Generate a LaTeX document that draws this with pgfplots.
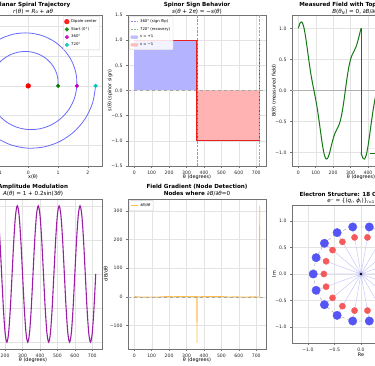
\documentclass[border=0pt]{standalone}
\usepackage{fontspec}
\setmainfont{DejaVu Sans}
\usepackage{pgfplots}
\pgfplotsset{compat=1.18}
\definecolor{spiralc}{RGB}{105,105,255}
\definecolor{mplred}{RGB}{235,30,30}
\definecolor{bluefill}{RGB}{179,179,255}
\definecolor{redfill}{RGB}{255,179,179}
\definecolor{vblue}{RGB}{140,140,255}
\definecolor{vgreen}{RGB}{128,192,128}
\definecolor{fieldgreen}{RGB}{20,120,20}
\definecolor{ampl}{RGB}{155,30,165}
\definecolor{grad}{RGB}{255,188,70}
\definecolor{eblue}{RGB}{85,85,245}
\definecolor{ered}{RGB}{245,90,90}
\definecolor{spoke}{RGB}{200,200,248}
\definecolor{mplgreen}{RGB}{0,128,0}
\definecolor{mplmag}{RGB}{191,0,191}
\definecolor{mplcyan}{RGB}{0,191,191}
\newcommand{\tfont}{\fontsize{5.6}{6.5}\selectfont\bfseries}
\newcommand{\sfont}{\fontsize{5.6}{6.5}\selectfont}
\newcommand{\lfont}{\fontsize{4.9}{5.5}\selectfont}
\newcommand{\kfont}{\fontsize{4.6}{5.2}\selectfont}
\newcommand{\ti}[1]{\textit{#1}}
\pgfplotsset{
  panel/.style={
    scale only axis, anchor=south west, width=138pt, height=151pt,
    axis line style={black!55, line width=0.6pt},
    tick align=outside, major tick length=2pt,
    every tick/.append style={black!55, line width=0.5pt},
    xtick pos=left, ytick pos=left,
    grid=major, grid style={black!11, line width=0.35pt},
    ticklabel style={font=\kfont, text=black!85},
    /pgf/number format/assume math mode=true,
    legend style={font=\fontsize{3.8}{4.4}\selectfont, draw=black!20, line width=0.3pt, rounded corners=0.8pt, fill=white, fill opacity=0.85, text opacity=1, inner xsep=1pt, inner ysep=0.8pt, row sep=-0.6pt, /tikz/every even column/.append style={column sep=1pt}},
    legend cell align=left,
    legend image code/.code={\draw[mark repeat=2,mark phase=2,#1] plot coordinates {(0pt,0pt) (3.5pt,0pt) (7pt,0pt)};},
  },
  degx/.style={xmin=-36, xmax=756, xtick={0,100,...,700}},
}
\begin{document}
\begin{tikzpicture}
\useasboundingbox (0pt,0pt) rectangle (375pt,366pt);
\clip (0pt,0pt) rectangle (375pt,366pt);

% ---------- Panel 1: spiral
\begin{axis}[panel, at={(-36pt,200pt)}, xmin=-2.15, xmax=2.47, ymin=-2.70, ymax=2.39,
  xtick={-2,-1,0,1,2}, xticklabels={−2,−1,0,1,2}, ytick={-2,-1,0,1,2}, yticklabels={−2,−1,0,1,2},
  legend style={at={(0.985,0.99)}, anchor=north east}]
\addplot[spiralc, line width=0.8pt, smooth, forget plot] coordinates {
(1.0000,0)(0.9912,0.2656)(0.9114,0.5262)(0.7626,0.7626)(0.5524,0.9567)(0.2927,1.0923)(0,1.1571)
(-0.3062,1.1430)(-0.6047,1.0473)(-0.8737,0.8737)(-1.0927,0.6309)(-1.2441,0.3333)(-1.3142,0)
(-1.2946,-0.3469)(-1.1834,-0.6833)(-0.9848,-0.9848)(-0.7095,-1.2288)(-0.3740,-1.3958)(0,-1.4712)
(0.3875,-1.4463)(0.7618,-1.3194)(1.0959,-1.0959)(1.3648,-0.7880)(1.5475,-0.4146)(1.6283,0)
(1.5981,0.4282)(1.4555,0.8404)(1.2070,1.2070)(0.8665,1.5008)(0.4553,1.6992)(0,1.7854)
(-0.4688,1.7498)(-0.9189,1.5915)(-1.3180,1.3180)(-1.6368,0.9451)(-1.8510,0.4959)(-1.9425,0)
(-1.9016,-0.5095)(-1.7275,-0.9974)(-1.4291,-1.4291)(-1.0236,-1.7729)(-0.5366,-2.0027)(0,-2.0996)
(0.5501,-2.0532)(1.0760,-1.8635)(1.5401,-1.5401)(1.9089,-1.1022)(2.1544,-0.5773)(2.2566,0)};
\addplot[only marks, mark=*, mark size=2.4pt, red] coordinates {(0,0)}; \addlegendentry{Dipole center}
\addplot[only marks, mark=*, mark size=1.9pt, mplgreen] coordinates {(1,0)}; \addlegendentry{Start (0°)}
\addplot[only marks, mark=*, mark size=1.9pt, mplmag] coordinates {(1.6283,0)}; \addlegendentry{360°}
\addplot[only marks, mark=*, mark size=1.9pt, mplcyan] coordinates {(2.2566,0)}; \addlegendentry{720°}
\end{axis}

% ---------- Panel 2: spinor sign
\begin{axis}[panel, degx, at={(128pt,200pt)}, ymin=-1.5, ymax=1.5,
  ytick={-1.5,-1,-0.5,0,0.5,1,1.5}, yticklabels={−1.5,−1.0,−0.5,0.0,0.5,1.0,1.5},
  legend style={at={(0.01,0.99)}, anchor=north west}]
\addplot[fill=bluefill, draw=none, forget plot] coordinates {(0,0)(0,1)(360,1)(360,0)} -- cycle;
\addplot[fill=redfill, draw=none, forget plot] coordinates {(360,0)(360,-1)(720,-1)(720,0)} -- cycle;
\addplot[black!35, dashed, line width=0.5pt, forget plot] coordinates {(-36,0)(756,0)};
\addplot[mplred, line width=1.1pt, forget plot] coordinates {(0,1)(360,1)(360,-1)(720,-1)(720,1)};
\addplot[vblue, dash pattern=on 2.5pt off 1.2pt, line width=0.7pt, forget plot] coordinates {(360,-1.5)(360,1.5)};
\addplot[vgreen, dash pattern=on 2.5pt off 1.2pt, line width=0.7pt, forget plot] coordinates {(720,-1.5)(720,1.5)};
\addlegendimage{vblue, dash pattern=on 2pt off 1pt, line width=0.6pt}\addlegendentry{360° (sign flip)}
\addlegendimage{vgreen, dash pattern=on 2pt off 1pt, line width=0.6pt}\addlegendentry{720° (recovery)}
\addlegendimage{legend image code/.code={\fill[bluefill] (0pt,-1.4pt) rectangle (7pt,1.4pt);}}\addlegendentry{\ti{s} = +1}
\addlegendimage{legend image code/.code={\fill[redfill] (0pt,-1.4pt) rectangle (7pt,1.4pt);}}\addlegendentry{\ti{s} = −1}
\end{axis}

% ---------- Panel 3: measured field
\begin{axis}[panel, degx, at={(292pt,200pt)}, ymin=-1.215, ymax=1.215,
  ytick={-1,-0.5,0,0.5,1}, yticklabels={−1.0,−0.5,0.0,0.5,1.0},
  legend style={at={(0.985,0.119)}, anchor=north east}]
\addplot[black!30, line width=0.6pt, forget plot] coordinates {(-36,0)(756,0)};
\addplot[fieldgreen, line width=1pt, smooth] coordinates {
(0,1.0)(10,1.0833)(20,1.1025)(30,1.0392)(40,0.8987)(50,0.7071)(60,0.5)(70,0.3078)(80,0.1435)(90,0)
(100,-0.1435)(110,-0.3078)(120,-0.5)(130,-0.7071)(140,-0.8987)(150,-1.0392)(160,-1.1025)(170,-1.0833)(180,-1.0)
(190,-0.8863)(200,-0.7769)(210,-0.6928)(220,-0.6333)(230,-0.5785)(240,-0.5)(250,-0.3762)(260,-0.2037)(270,0)
(280,0.2037)(290,0.3762)(300,0.5)(310,0.5785)(320,0.6333)(330,0.6928)(340,0.7769)(350,0.8863)(360,1.0)};
\addlegendentry{\ti{B}(\ti{θ}) measured, sign flip}
\addplot[fieldgreen, line width=1pt, forget plot] coordinates {(360,1)(360,-1)};
\addplot[fieldgreen, line width=1pt, smooth, forget plot] coordinates {
(360,-1.0)(370,-1.0833)(380,-1.1025)(390,-1.0392)(400,-0.8987)(410,-0.7071)(420,-0.5)(430,-0.3078)(440,-0.1435)(450,0)
(460,0.1435)(470,0.3078)(480,0.5)(490,0.7071)(500,0.8987)(510,1.0392)(520,1.1025)(530,1.0833)(540,1.0)
(550,0.8863)(560,0.7769)(570,0.6928)(580,0.6333)(590,0.5785)(600,0.5)(610,0.3762)(620,0.2037)(630,0)
(640,-0.2037)(650,-0.3762)(660,-0.5)(670,-0.5785)(680,-0.6333)(690,-0.6928)(700,-0.7769)(710,-0.8863)(720,-1.0)};
\addplot[fieldgreen, line width=1pt, forget plot] coordinates {(720,-1)(720,1)};
\end{axis}

% ---------- Panel 4: amplitude
\begin{axis}[panel, degx, at={(-36pt,17pt)}, height=150pt, ymin=0.78, ymax=1.22,
  ytick={0.8,0.9,1.0,1.1,1.2}]
\addplot[ampl, line width=1.1pt, smooth] coordinates {
(0,1)(10,1.1)(20,1.1732)(30,1.2)(40,1.1732)(50,1.1)(60,1)(70,0.9)(80,0.8268)(90,0.8)(100,0.8268)(110,0.9)
(120,1)(130,1.1)(140,1.1732)(150,1.2)(160,1.1732)(170,1.1)(180,1)(190,0.9)(200,0.8268)(210,0.8)(220,0.8268)(230,0.9)
(240,1)(250,1.1)(260,1.1732)(270,1.2)(280,1.1732)(290,1.1)(300,1)(310,0.9)(320,0.8268)(330,0.8)(340,0.8268)(350,0.9)
(360,1)(370,1.1)(380,1.1732)(390,1.2)(400,1.1732)(410,1.1)(420,1)(430,0.9)(440,0.8268)(450,0.8)(460,0.8268)(470,0.9)
(480,1)(490,1.1)(500,1.1732)(510,1.2)(520,1.1732)(530,1.1)(540,1)(550,0.9)(560,0.8268)(570,0.8)(580,0.8268)(590,0.9)
(600,1)(610,1.1)(620,1.1732)(630,1.2)(640,1.1732)(650,1.1)(660,1)(670,0.9)(680,0.8268)(690,0.8)(700,0.8268)(710,0.9)(720,1)};
\end{axis}

% ---------- Panel 5: gradient
\begin{axis}[panel, degx, at={(128pt,17pt)}, height=150pt, ymin=-182, ymax=341,
  ytick={-100,0,100,200,300}, yticklabels={−100,0,100,200,300},
  legend style={at={(0.01,0.99)}, anchor=north west}]
\addplot[grad, line width=0.9pt] coordinates {
(0,0.6)(10,0.3207)(20,-0.1193)(30,-0.6)(40,-0.9839)(50,-1.1766)(60,-1.166)(70,-1.0234)(80,-0.8663)(90,-0.8)
(100,-0.8663)(110,-1.0234)(120,-1.166)(130,-1.1766)(140,-0.9839)(150,-0.6)(160,-0.1193)(170,0.3207)(180,0.6)
(190,0.6679)(200,0.5647)(210,0.4)(220,0.3017)(230,0.3554)(240,0.566)(250,0.856)(260,1.1033)(270,1.2)
(280,1.1033)(290,0.856)(300,0.566)(310,0.3554)(320,0.3017)(330,0.4)(340,0.5647)(350,0.6679)(359.6,0.6)
(359.8,-159.1)(360.2,-159.1)(360.4,-0.6)
(370,-0.3207)(380,0.1193)(390,0.6)(400,0.9839)(410,1.1766)(420,1.166)(430,1.0234)(440,0.8663)(450,0.8)
(460,0.8663)(470,1.0234)(480,1.166)(490,1.1766)(500,0.9839)(510,0.6)(520,0.1193)(530,-0.3207)(540,-0.6)
(550,-0.6679)(560,-0.5647)(570,-0.4)(580,-0.3017)(590,-0.3554)(600,-0.566)(610,-0.856)(620,-1.1033)(630,-1.2)
(640,-1.1033)(650,-0.856)(660,-0.566)(670,-0.3554)(680,-0.3017)(690,-0.4)(700,-0.5647)(710,-0.6679)(719.3,-0.6)
(719.64,159.1)(720,318.2)};
\addlegendentry{∂\ti{B}/∂\ti{θ}}
\addplot[black!35, dashed, line width=0.5pt, forget plot] coordinates {(-36,0)(756,0)};
\end{axis}

% ---------- Panel 6: electron structure
\begin{axis}[panel, at={(292pt,23pt)}, width=138pt, height=138pt, xmin=-1.3, xmax=1.3, ymin=-1.3, ymax=1.3,
  xtick={-1,-0.5,0,0.5,1}, xticklabels={−1.0,−0.5,0.0,0.5,1.0},
  ytick={-1,-0.5,0,0.5,1}, yticklabels={−1.0,−0.5,0.0,0.5,1.0}]
\addplot[spoke, line width=0.5pt, unbounded coords=jump] coordinates {
(0,0)(0.9,0)(nan,nan)(0,0)(0.8457,0.3078)(nan,nan)(0,0)(0.6894,0.5785)(nan,nan)(0,0)(0.45,0.7794)(nan,nan)
(0,0)(0.1563,0.8863)(nan,nan)(0,0)(-0.1563,0.8863)(nan,nan)(0,0)(-0.45,0.7794)(nan,nan)(0,0)(-0.6894,0.5785)(nan,nan)
(0,0)(-0.8457,0.3078)(nan,nan)(0,0)(-0.9,0)(nan,nan)(0,0)(-0.8457,-0.3078)(nan,nan)(0,0)(-0.6894,-0.5785)(nan,nan)
(0,0)(-0.45,-0.7794)(nan,nan)(0,0)(-0.1563,-0.8863)(nan,nan)(0,0)(0.1563,-0.8863)(nan,nan)(0,0)(0.45,-0.7794)(nan,nan)
(0,0)(0.6894,-0.5785)(nan,nan)(0,0)(0.8457,-0.3078)};
\addplot[black!40, dashed, line width=0.4pt] coordinates {
(0.9,0)(0.8457,0.3078)(0.6894,0.5785)(0.45,0.7794)(0.1563,0.8863)(-0.1563,0.8863)(-0.45,0.7794)(-0.6894,0.5785)
(-0.8457,0.3078)(-0.9,0)(-0.8457,-0.3078)(-0.6894,-0.5785)(-0.45,-0.7794)(-0.1563,-0.8863)(0.1563,-0.8863)
(0.45,-0.7794)(0.6894,-0.5785)(0.8457,-0.3078)(0.9,0)};
\addplot[only marks, mark=*, mark size=3.1pt, ered, mark options={draw=ered}] coordinates {
(0.7,0)(0.6578,0.2394)(0.5362,0.45)(0.35,0.6062)(0.1215,0.6894)(-0.1215,0.6894)(-0.35,0.6062)(-0.5362,0.45)
(-0.6578,0.2394)(-0.7,0)(-0.6578,-0.2394)(-0.5362,-0.45)(-0.35,-0.6062)(-0.1215,-0.6894)(0.1215,-0.6894)
(0.35,-0.6062)(0.5362,-0.45)(0.6578,-0.2394)};
\addplot[only marks, mark=*, mark size=4.2pt, eblue, mark options={draw=eblue}] coordinates {
(0.9,0)(0.8457,0.3078)(0.6894,0.5785)(0.45,0.7794)(0.1563,0.8863)(-0.1563,0.8863)(-0.45,0.7794)(-0.6894,0.5785)
(-0.8457,0.3078)(-0.9,0)(-0.8457,-0.3078)(-0.6894,-0.5785)(-0.45,-0.7794)(-0.1563,-0.8863)(0.1563,-0.8863)
(0.45,-0.7794)(0.6894,-0.5785)(0.8457,-0.3078)};
\addplot[only marks, mark=*, mark size=1.2pt, black] coordinates {(0,0)};
\end{axis}

% ---------- titles and labels
\node[font=\tfont] at (33pt,361pt) {Planar Spiral Trajectory};
\node[font=\sfont] at (33pt,354.5pt) {\ti{r}(\ti{θ}) = \ti{R}₀ + \ti{aθ}};
\node[font=\lfont] at (33pt,189pt) {x(θ)};

\node[font=\tfont] at (197pt,361pt) {Spinor Sign Behavior};
\node[font=\sfont] at (197pt,354.5pt) {\ti{s}(\ti{θ} + 2\ti{π}) = −\ti{s}(\ti{θ})};
\node[font=\lfont] at (197pt,189pt) {θ (degrees)};
\node[font=\lfont, rotate=90] at (110pt,275.5pt) {s(θ) (spinor sign)};

\node[font=\tfont] at (361pt,361pt) {Measured Field with Topological Nodes};
\node[font=\sfont] at (361pt,354.5pt) {\ti{B}(\ti{θ}\textsubscript{\ti{N}}) = 0, ∂\ti{B}/∂\ti{θ} ≠ 0};
\node[font=\lfont] at (361pt,189pt) {θ (degrees)};
\node[font=\lfont, rotate=90] at (274pt,275.5pt) {B(θ) (measured field)};

\node[font=\tfont] at (33pt,179pt) {Amplitude Modulation};
\node[font=\sfont] at (33pt,172.5pt) {\ti{A}(\ti{θ}) = 1 + 0.2sin(3\ti{θ})};
\node[font=\lfont] at (33pt,6pt) {θ (degrees)};

\node[font=\tfont] at (197pt,179pt) {Field Gradient (Node Detection)};
\node[font=\tfont] at (197pt,172pt) {Nodes where {\mdseries ∂\ti{B}/∂\ti{θ}=0}};
\node[font=\lfont] at (197pt,6pt) {θ (degrees)};
\node[font=\lfont, rotate=90] at (106pt,92pt) {dB/dθ};

\node[font=\tfont] at (361pt,171pt) {Electron Structure: 18 Charge Clusters};
\node[font=\sfont] at (361pt,165pt) {\ti{e}⁻ = \{(\ti{q}\textsubscript{\ti{i}}, \ti{ϕ}\textsubscript{\ti{i}})\}\textsubscript{\ti{i}=1}, …, 18};
\node[font=\lfont] at (361pt,11pt) {Re};
\node[font=\lfont, rotate=90] at (274pt,92pt) {Im};
\end{tikzpicture}
\end{document}
